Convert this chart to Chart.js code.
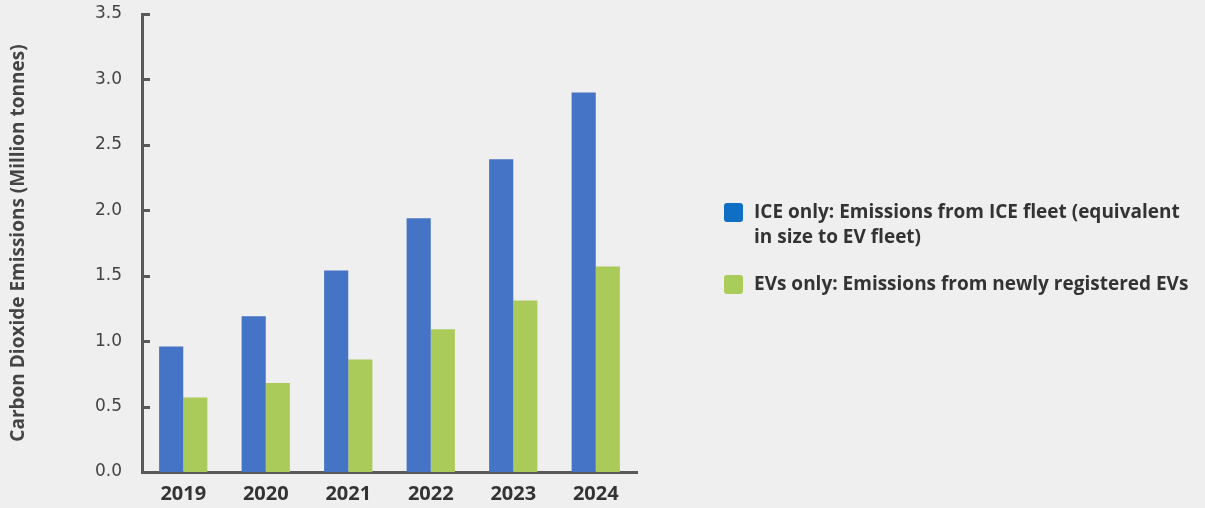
<!DOCTYPE html>
<html>
<head>
<meta charset="utf-8">
<script src="https://cdn.jsdelivr.net/npm/chart.js@4.4.1/dist/chart.umd.min.js"></script>
<style>
  html, body { margin: 0; padding: 0; background: #efefef; }
  #wrap { position: relative; width: 1205px; height: 508px; }
  #legend { position: absolute; left: 724px; top: 199px; font-family: 'Open Sans', sans-serif; font-weight: 700; font-size: 19px; color: #333; }
  .item { display: flex; align-items: flex-start; margin-bottom: 22px; }
  .box { width: 19px; height: 19px; border-radius: 3px; margin-right: 11px; margin-top: 4px; flex: none; }
  .txt { line-height: 25px; }
</style>
</head>
<body>
<div id="wrap">
  <canvas id="chart" width="1205" height="508"></canvas>
  <div id="legend"></div>
</div>
<script>
const years = ['2019', '2020', '2021', '2022', '2023', '2024'];
const iceValues = [0.96, 1.19, 1.54, 1.94, 2.39, 2.90];
const evValues = [0.57, 0.68, 0.86, 1.09, 1.31, 1.57];
const yTicks = [0, 0.5, 1.0, 1.5, 2.0, 2.5, 3.0, 3.5];
const legendLabels = [
  'ICE only: Emissions from ICE fleet (equivalent<br>in size to EV fleet)',
  'EVs only: Emissions from newly registered EVs'
];

const axisColor = '#5a5a5a';
const blue = '#4573c5';
const green = '#aacb5a';
const legendColors = ['#0f6fc4', '#a9cc5b'];

// small tick marks drawn inside the plot, right of the y axis
const innerTicks = {
  id: 'innerTicks',
  afterDatasetsDraw(chart) {
    const { ctx, scales: { y }, chartArea } = chart;
    ctx.save();
    ctx.strokeStyle = axisColor;
    ctx.lineWidth = 3;
    y.ticks.forEach(t => {
      const py = Math.round(y.getPixelForValue(t.value)) + 0.5;
      ctx.beginPath();
      ctx.moveTo(chartArea.left, py);
      ctx.lineTo(chartArea.left + 8, py);
      ctx.stroke();
    });
    ctx.restore();
  }
};

new Chart(document.getElementById('chart'), {
  type: 'bar',
  data: {
    labels: years,
    datasets: [
      { label: 'ICE', data: iceValues, backgroundColor: blue },
      { label: 'EV', data: evValues, backgroundColor: green }
    ]
  },
  options: {
    responsive: false,
    animation: false,
    layout: { padding: { top: 14, right: 568, left: 0, bottom: 0 } },
    datasets: { bar: { categoryPercentage: 0.585, barPercentage: 1.0 } },
    plugins: { legend: { display: false }, tooltip: { enabled: false } },
    scales: {
      x: {
        afterFit: s => { s.height = 36; s.paddingLeft = 0; s.paddingRight = 0; },
        grid: { display: false, drawTicks: false },
        border: { color: axisColor, width: 3 },
        ticks: { color: '#333', padding: 10, font: { family: 'Open Sans', size: 20, weight: 'bold' } }
      },
      y: {
        min: 0,
        max: 3.5,
        afterFit: s => { s.width = 142; s.paddingTop = 0; s.paddingBottom = 0; },
        afterBuildTicks: s => { s.ticks = yTicks.map(v => ({ value: v })); },
        grid: { display: false, drawTicks: false },
        border: { color: axisColor, width: 3 },
        ticks: {
          color: '#444',
          padding: 20,
          font: { family: 'DejaVu Sans', size: 17 },
          callback: v => v.toFixed(1)
        },
        title: {
          display: true,
          text: 'Carbon Dioxide Emissions (Million tonnes)',
          color: '#444',
          padding: { top: 7, bottom: 0 },
          font: { family: 'Open Sans', size: 19, weight: 'bold' }
        }
      }
    }
  },
  plugins: [innerTicks]
});

document.getElementById('legend').innerHTML = legendLabels.map((l, i) =>
  `<div class="item"><div class="box" style="background:${legendColors[i]}"></div><div class="txt">${l}</div></div>`
).join('');
</script>
</body>
</html>
